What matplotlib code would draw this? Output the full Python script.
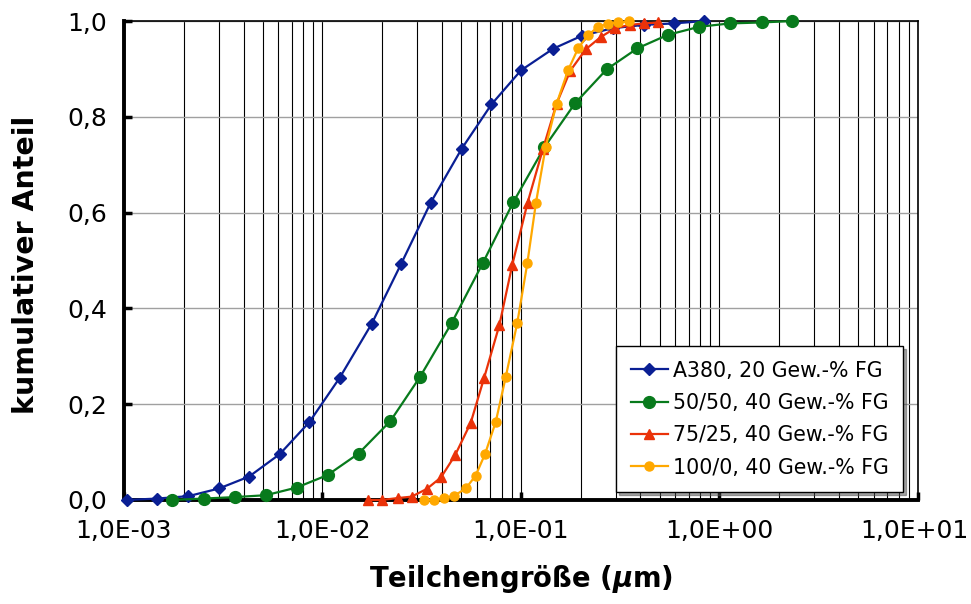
#!/usr/bin/env python3
# -*- coding: utf-8 -*-
"""
Kumulative Partikelgrößenverteilung der Füllstoffe (Summenkurven, log. Achse)
"""

import numpy as np
import matplotlib
matplotlib.use('Agg')
import matplotlib.pyplot as plt
from matplotlib.ticker import FixedLocator, LogLocator, NullFormatter

plt.rcParams['font.family'] = ['DejaVu Sans']
plt.rcParams['axes.unicode_minus'] = False
plt.rcParams['mathtext.fontset'] = 'custom'
plt.rcParams['mathtext.it'] = 'DejaVu Sans:bold:italic'
plt.rcParams['mathtext.rm'] = 'DejaVu Sans:bold'

# Messdaten: Teilchengröße (µm) und kumulativer Anteil
d_a380 = [0.00103, 0.00147, 0.00211, 0.00301, 0.00427, 0.0061, 0.0086, 0.0122,
          0.0177, 0.0249, 0.0351, 0.0502, 0.071, 0.100, 0.145, 0.202, 0.29,
          0.418, 0.59, 0.835]
q_a380 = [0.0, 0.003, 0.008, 0.024, 0.049, 0.096, 0.163, 0.255, 0.368, 0.493,
          0.621, 0.733, 0.826, 0.897, 0.942, 0.969, 0.985, 0.992, 0.995, 1.0]

d_5050 = [0.00175, 0.00252, 0.00361, 0.00519, 0.00741, 0.0106, 0.0152, 0.0220,
          0.0310, 0.0448, 0.0641, 0.0915, 0.131, 0.187, 0.270, 0.386, 0.548,
          0.791, 1.13, 1.63, 2.33]
q_5050 = [0.0, 0.003, 0.006, 0.010, 0.026, 0.052, 0.097, 0.165, 0.257, 0.370,
          0.494, 0.622, 0.736, 0.828, 0.899, 0.943, 0.971, 0.988, 0.995, 0.997,
          1.0]

d_7525 = [0.0169, 0.0199, 0.0239, 0.0281, 0.0335, 0.0395, 0.0465, 0.0558,
          0.0651, 0.0778, 0.0904, 0.108, 0.129, 0.151, 0.177, 0.212, 0.253,
          0.298, 0.354, 0.418, 0.492]
q_7525 = [0.0, 0.0, 0.004, 0.007, 0.023, 0.047, 0.093, 0.161, 0.254, 0.365,
          0.491, 0.621, 0.733, 0.827, 0.896, 0.941, 0.967, 0.985, 0.992, 0.995,
          0.997]

d_1000 = [0.0326, 0.0366, 0.0411, 0.0461, 0.0527, 0.0591, 0.0659, 0.0746,
          0.0837, 0.0958, 0.1076, 0.119, 0.133, 0.151, 0.173, 0.194, 0.218,
          0.245, 0.273, 0.309, 0.350]
q_1000 = [0.0, 0.001, 0.004, 0.009, 0.024, 0.051, 0.096, 0.163, 0.256, 0.370,
          0.494, 0.621, 0.736, 0.827, 0.898, 0.943, 0.971, 0.988, 0.994, 0.997,
          0.999]

labels = ['A380, 20 Gew.-% FG', '50/50, 40 Gew.-% FG',
          '75/25, 40 Gew.-% FG', '100/0, 40 Gew.-% FG']

x_ticks = [1e-3, 1e-2, 1e-1, 1e0, 1e1]
x_ticklabels = ['1,0E-03', '1,0E-02', '1,0E-01', '1,0E+00', '1,0E+01']
y_ticks = [0.0, 0.2, 0.4, 0.6, 0.8, 1.0]
y_ticklabels = ['0,0', '0,2', '0,4', '0,6', '0,8', '1,0']


def plot_verteilung(output_file='out.png'):
    """Summenkurven aller Füllstoffe in einem Diagramm"""
    fig = plt.figure(figsize=(9.71, 6.04), dpi=100)
    ax = fig.add_axes([0.1277, 0.1722, 0.8177, 0.7930])

    serien = [
        (d_a380, q_a380, '#0a1f94', 'D', 6.0),
        (d_5050, q_5050, '#087a1c', 'o', 8.5),
        (d_7525, q_7525, '#ea3209', '^', 7.0),
        (d_1000, q_1000, '#ffa800', 'o', 6.5),
    ]
    for (d, q, farbe, marker, ms), label in zip(serien, labels):
        ax.plot(d, q, color=farbe, linewidth=1.6, marker=marker,
                markersize=ms, markeredgecolor=farbe, label=label,
                clip_on=False, zorder=5)

    ax.set_xscale('log')
    ax.set_xlim(1e-3, 1e1)
    ax.set_ylim(0, 1.0)

    # Achsenteilung; letzte Beschriftung wird separat gesetzt,
    # damit sie nicht über den Bildrand hinausragt
    ax.xaxis.set_major_locator(FixedLocator(x_ticks))
    ax.set_xticklabels(x_ticklabels[:-1] + [''])
    ax.xaxis.set_minor_locator(LogLocator(base=10, subs=np.arange(2, 10)))
    ax.xaxis.set_minor_formatter(NullFormatter())
    ax.set_yticks(y_ticks)
    ax.set_yticklabels(y_ticklabels)

    # Gitter: senkrecht schwarz, waagrecht grau
    ax.grid(True, axis='x', which='both', color='black', linewidth=0.8)
    ax.grid(True, axis='y', which='major', color='#a0a0a0', linewidth=1.0)
    ax.set_axisbelow(True)

    ax.tick_params(axis='both', which='major', direction='in', length=6,
                   width=2.5, labelsize=18, colors='black')
    ax.tick_params(axis='x', which='major', pad=14)
    ax.tick_params(axis='y', which='major', pad=12)
    ax.tick_params(axis='x', which='minor', length=0)

    ax.annotate(x_ticklabels[-1], xy=(x_ticks[-1], 0),
                xycoords=('data', 'axes fraction'), xytext=(-2.5, -14),
                textcoords='offset points', ha='center', va='top',
                fontsize=18, annotation_clip=False)

    for seite in ['left', 'bottom']:
        ax.spines[seite].set_linewidth(2.8)
    for seite in ['top', 'right']:
        ax.spines[seite].set_linewidth(1.2)

    fig.text(0.5366, 0.028, r'Teilchengröße ($\mu$m)', ha='center',
             va='baseline', fontsize=19.8, fontweight='bold')
    fig.text(0.027, 0.561, 'kumulativer Anteil', rotation=90, ha='center',
             va='center', fontsize=20.5, fontweight='bold')

    leg = ax.legend(loc='lower right', bbox_to_anchor=(0.981, 0.0167),
                    fontsize=14.8, frameon=True, fancybox=False, shadow=True,
                    framealpha=1, edgecolor='black', handlelength=1.8,
                    handletextpad=0.25, labelspacing=0.6, borderpad=0.7,
                    borderaxespad=0)
    leg.get_frame().set_linewidth(1.0)
    leg.set_zorder(10)

    plt.savefig(output_file, dpi=100)
    return fig


def main():
    plot_verteilung('out.png')


if __name__ == "__main__":
    main()
